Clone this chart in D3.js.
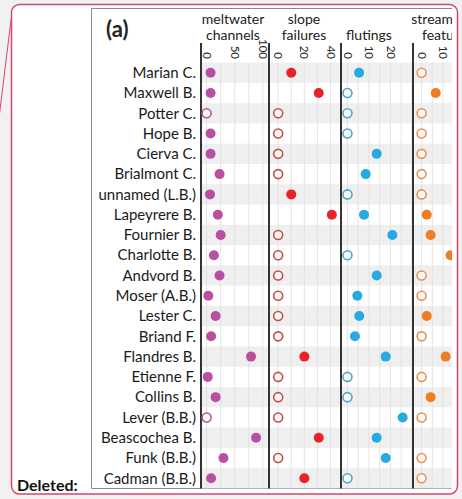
<!DOCTYPE html>
<html>
<head>
<meta charset="utf-8">
<script src="https://cdn.jsdelivr.net/npm/d3@7"></script>
<style>
  body { margin: 0; background: #f1f1f1; }
  svg { display: block; font-family: Lato, "Open Sans", sans-serif; }
</style>
</head>
<body>
<div id="the_chart"></div>
<script>
// row names, top to bottom
var names = ["Marian C.", "Maxwell B.", "Potter C.", "Hope B.", "Cierva C.", "Brialmont C.",
    "unnamed (L.B.)", "Lapeyrere B.", "Fournier B.", "Charlotte B.", "Andvord B.", "Moser (A.B.)",
    "Lester C.", "Briand F.", "Flandres B.", "Etienne F.", "Collins B.", "Lever (B.B.)",
    "Beascochea B.", "Funk (B.B.)", "Cadman (B.B.)"];

var meltwater = [7, 7, 0, 7, 7, 23, 6, 20, 25, 13, 23, 3, 16, 8, 79, 2, 16, 0, 88, 30, 8];
var slope = [10, 31, 0, 0, 0, 0, 10, 41, 0, 0, 0, 0, 0, 0, 20, 0, 0, 0, 31, 0, 20];
var flutings = [5.4, 0, 0, 0, 13.6, 8.5, 0, 7.7, 20.9, 0, 13.6, 4.6, 5.5, 3.5, 17.8, 0, 0, 25.7, 13.6, 17.8, 0];
var streamlined = [0, 6.6, 0, 0, 0, 0, 0, 2.4, 4.2, 13.5, 0, 0, 2.4, 0, 11.2, 0, 4.2, 0, 22, 0, 0];

var meltwaterTicks = [0, 50, 100];
var slopeTicks = [0, 20, 40];
var flutingsTicks = [0, 10, 20];
var streamTicks = [0, 10, 20];

var w = 462, h = 499;
var rowsTop = 62.6, rowsBottom = 488.4;

var panels = [
    {values: meltwater, head: ["meltwater", "channels"], hx: 233, x0: 201, x1: 269, domain: [-10, 111],
     ticks: meltwaterTicks, grid: 25, fill: "#b94fa0", open: "#a65ca2"},
    {values: slope, head: ["slope", "failures"], hx: 304, x0: 269, x1: 341, domain: [-7, 48],
     ticks: slopeTicks, grid: 10, fill: "#e8232a", open: "#c0504d"},
    {values: flutings, head: ["", "flutings"], hx: 369, x0: 341, x1: 413, domain: [-3, 30.5],
     ticks: flutingsTicks, grid: 5, fill: "#27a9e1", open: "#4ba8cc"},
    {values: streamlined, head: ["streamlined", "features"], hx: 447, x0: 413, x1: 486, domain: [-4, 30],
     ticks: streamTicks, grid: 5, fill: "#ef7d22", open: "#e2955a"}
];

var svg = d3.select("#the_chart").append("svg")
    .attr("width", w)
    .attr("height", h);

// outer frame
svg.append("line")
    .attr("x1", 11).attr("y1", 20).attr("x2", -1).attr("y2", 118)
    .attr("stroke", "#d2486a").attr("stroke-width", 1);
svg.append("rect")
    .attr("x", 11.5).attr("y", 4.5).attr("width", 446).attr("height", 489.5)
    .attr("rx", 8)
    .attr("fill", "white")
    .attr("stroke", "#d2486a")
    .attr("stroke-width", 1.5);

svg.append("text")
    .attr("x", 17).attr("y", 491)
    .attr("font-size", 16).attr("font-weight", "bold")
    .attr("fill", "#111")
    .text("Deleted:");

svg.append("clipPath").attr("id", "clip")
    .append("rect").attr("x", 0).attr("y", 0).attr("width", 452).attr("height", h);

var g = svg.append("g").attr("clip-path", "url(#clip)");

// inner picture box
g.append("path")
    .attr("d", "M470,8.5 H91.5 V488.5 H470")
    .attr("fill", "none")
    .attr("stroke", "#8a8a8a")
    .attr("stroke-width", 1);

g.append("text")
    .attr("x", 106).attr("y", 37)
    .attr("font-size", 22).attr("font-weight", "bold")
    .attr("fill", "#222")
    .text("(a)");

var yscale = d3.scaleBand()
    .domain(names)
    .range([rowsTop, rowsBottom]);

// row shading
g.selectAll("rect.band")
    .data(names.filter(function(d, i) { return i % 2 == 0; }))
    .enter().append("rect")
    .attr("class", "band")
    .attr("x", 201)
    .attr("y", function(d) { return yscale(d); })
    .attr("width", 300)
    .attr("height", yscale.bandwidth())
    .attr("fill", "#efefef");

g.selectAll("text.name")
    .data(names)
    .enter().append("text")
    .attr("class", "name")
    .attr("x", 196)
    .attr("y", function(d) { return yscale(d) + yscale.bandwidth() / 2; })
    .attr("dy", "0.35em")
    .attr("text-anchor", "end")
    .attr("font-size", 15)
    .attr("fill", "#1a1a1a")
    .text(function(d) { return d; });

panels.forEach(function(p) {
    var xscale = d3.scaleLinear()
        .domain(p.domain)
        .range([p.x0, p.x1]);

    // faint grid
    var gridVals = d3.range(0, p.domain[1] + 0.01, p.grid);
    g.append("g").selectAll("line")
        .data(gridVals)
        .enter().append("line")
        .attr("x1", function(d) { return xscale(d); })
        .attr("x2", function(d) { return xscale(d); })
        .attr("y1", rowsTop).attr("y2", rowsBottom)
        .attr("stroke", "#dedede")
        .attr("stroke-opacity", 0.8)
        .attr("stroke-width", 1);

    // header
    var head = g.append("text")
        .attr("text-anchor", "middle")
        .attr("font-size", 14)
        .attr("fill", "#222");
    head.append("tspan").attr("x", p.hx).attr("y", 24).text(p.head[0]);
    head.append("tspan").attr("x", p.hx).attr("y", 40).text(p.head[1]);

    // rotated tick labels
    var axis = d3.axisTop(xscale)
        .tickValues(p.ticks)
        .tickSize(0)
        .tickFormat(d3.format("d"));
    var ax = g.append("g")
        .attr("transform", "translate(0,59)")
        .call(axis);
    ax.select(".domain").remove();
    ax.selectAll("text")
        .attr("transform", "rotate(90)")
        .attr("x", 0)
        .attr("y", 0)
        .attr("dy", "0.38em")
        .attr("text-anchor", "end")
        .attr("font-size", 11.5)
        .attr("font-family", "Lato, sans-serif")
        .attr("fill", "#222");

    // panel separator
    g.append("line")
        .attr("x1", p.x0).attr("x2", p.x0)
        .attr("y1", 43).attr("y2", 488.5)
        .attr("stroke", "#333")
        .attr("stroke-width", 2);

    g.append("g").selectAll("circle")
        .data(p.values)
        .enter().append("circle")
        .attr("cx", function(d) { return xscale(d); })
        .attr("cy", function(d, i) { return yscale(names[i]) + yscale.bandwidth() / 2; })
        .attr("r", function(d) { return d > 0 ? 5 : 4.5; })
        .attr("fill", function(d) { return d > 0 ? p.fill : "#fffaf6"; })
        .attr("stroke", function(d) { return d > 0 ? "none" : p.open; })
        .attr("stroke-width", 1.6);
});
</script>
</body>
</html>
